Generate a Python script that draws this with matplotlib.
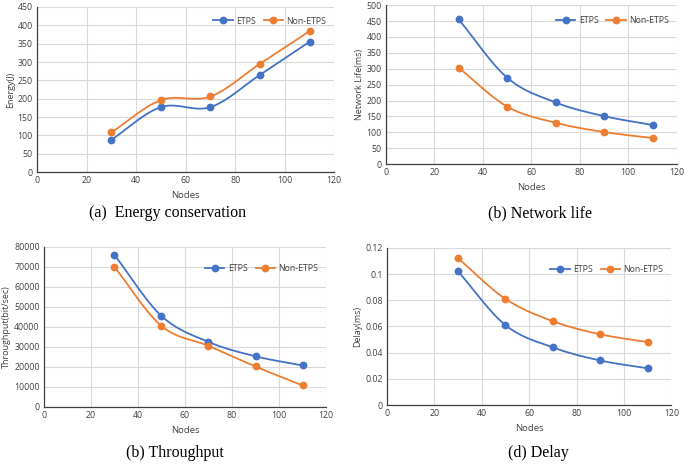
import numpy as np
import matplotlib
matplotlib.use("Agg")
import matplotlib.pyplot as plt

# データ
nodes = [30, 50, 70, 90, 110]

energy_etps = [88, 177, 177, 265, 355]
energy_non = [108, 196, 206, 295, 384]

life_etps = [455, 272, 194, 151, 123]
life_non = [303, 181, 130, 101, 82]

thr_etps = [76000, 45500, 32500, 25300, 20700]
thr_non = [70000, 40500, 30500, 20200, 10700]

delay_etps = [0.102, 0.061, 0.044, 0.034, 0.028]
delay_non = [0.112, 0.081, 0.064, 0.054, 0.048]

series_names = ["ETPS", "Non-ETPS"]
colors = ["#4472C4", "#ED7D31"]


def smooth(x, y, n=30):
    # Excel風のスムージング線 (Catmull-Rom)
    x = np.asarray(x, float)
    y = np.asarray(y, float)
    px = np.concatenate([[2 * x[0] - x[1]], x, [2 * x[-1] - x[-2]]])
    py = np.concatenate([[2 * y[0] - y[1]], y, [2 * y[-1] - y[-2]]])
    xs, ys = [], []
    t = np.linspace(0, 1, n)
    for i in range(1, len(px) - 2):
        for p, out in ((px, xs), (py, ys)):
            p0, p1, p2, p3 = p[i - 1], p[i], p[i + 1], p[i + 2]
            out.append(0.5 * ((2 * p1) + (-p0 + p2) * t
                              + (2 * p0 - 5 * p1 + 4 * p2 - p3) * t ** 2
                              + (-p0 + 3 * p1 - 3 * p2 + p3) * t ** 3))
    return np.concatenate(xs), np.concatenate(ys)


def panel(ax, s1, s2, ylim, ystep, ylabel, legend_y):
    for vals, name, c in zip([s1, s2], series_names, colors):
        sx, sy = smooth(nodes, vals)
        ax.plot(sx, sy, color=c, lw=1.3, zorder=3)
        ax.plot(nodes, vals, "o", color=c, ms=4.6, zorder=4)
        ax.plot([], [], "-o", color=c, lw=1.3, ms=4.6, label=name)
    ax.set_xlim(0, 120)
    ax.set_ylim(*ylim)
    ax.set_xticks(np.arange(0, 121, 20))
    ax.set_yticks(np.arange(ylim[0], ylim[1] + ystep / 2, ystep))
    ax.grid(True, color="#D9D9D9", lw=0.8)
    ax.set_axisbelow(True)
    for s in ["top", "right"]:
        ax.spines[s].set_visible(False)
    for s in ["left", "bottom"]:
        ax.spines[s].set_color("#404040")
        ax.spines[s].set_linewidth(0.9)
    ax.tick_params(length=0, labelsize=6.3, colors="#404040", pad=3)
    ax.set_xlabel("Nodes", fontsize=6.8, color="#404040", labelpad=4)
    ax.set_ylabel(ylabel, fontsize=6.5, color="#404040", labelpad=2)
    ax.legend(loc="upper right", bbox_to_anchor=(1.0, legend_y), ncol=2,
              frameon=False, fontsize=6.3, handlelength=2.2,
              columnspacing=0.9, handletextpad=0.4, labelcolor="#404040")


plt.rcParams["font.family"] = ["Open Sans", "DejaVu Sans"]
fig = plt.figure(figsize=(6.85, 4.65), dpi=100)

ax1 = fig.add_axes([0.054, 0.630, 0.434, 0.355])
ax2 = fig.add_axes([0.5635, 0.647, 0.4245, 0.342])
ax3 = fig.add_axes([0.064, 0.125, 0.412, 0.344])
ax4 = fig.add_axes([0.565, 0.129, 0.415, 0.338])

panel(ax1, energy_etps, energy_non, (0, 450), 50, "Energy(J)", 0.99)
panel(ax2, life_etps, life_non, (0, 500), 50, "Network Life(ms)", 0.98)
panel(ax3, thr_etps, thr_non, (0, 80000), 10000, "Throughput(bit/sec)", 0.94)
panel(ax4, delay_etps, delay_non, (0, 0.12), 0.02, "Delay(ms)", 0.94)
ax4.set_yticklabels(["0", "0.02", "0.04", "0.06", "0.08", "0.1", "0.12"])

cap = dict(fontsize=11.5, family=["Liberation Serif", "DejaVu Serif"],
           ha="center", va="center")
fig.text(168 / 685, 1 - 213 / 465, "(a)  Energy conservation", **cap)
fig.text(540 / 685, 1 - 213 / 465, "(b) Network life", **cap)
fig.text(175 / 685, 1 - 453 / 465, "(b) Throughput", **cap)
fig.text(538 / 685, 1 - 453 / 465, "(d) Delay", **cap)

fig.savefig("out.png", dpi=100)
